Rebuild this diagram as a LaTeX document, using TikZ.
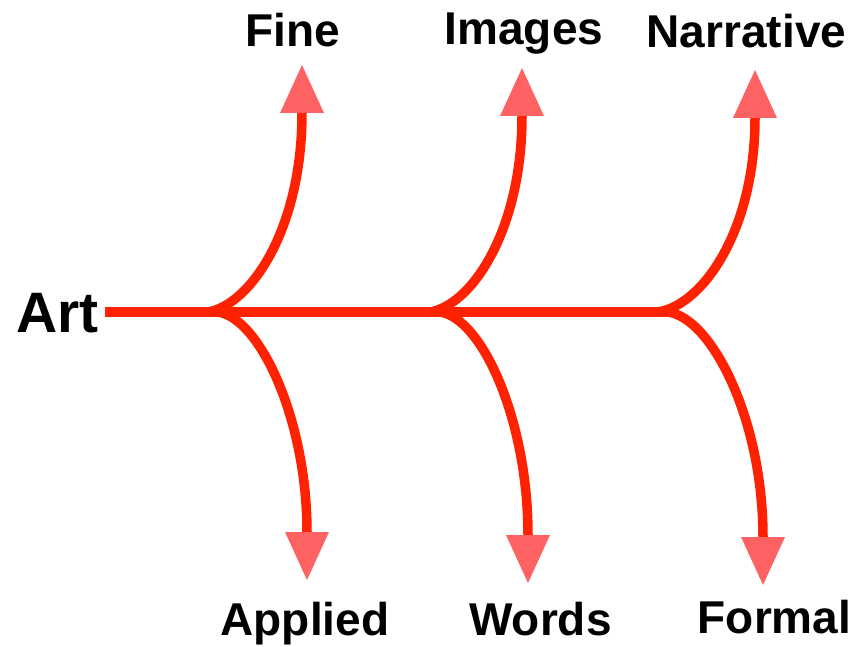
\documentclass[tikz,border=0pt]{standalone}
\usepackage{fontspec}
\setmainfont{Liberation Sans}
\usetikzlibrary{arrows.meta}
\definecolor{linered}{HTML}{FF2200}
\definecolor{tipred}{HTML}{FF6262}
\tikzset{
  branch/.style={draw=linered, line width=9.5pt,
    -{Triangle[width=44pt,length=48pt,line width=0pt,color=tipred]}},
  trunk/.style={draw=linered, line width=9.5pt},
  lbl/.style={inner sep=0pt, anchor=base, font=\fontsize{46}{50}\selectfont\bfseries},
  rootlbl/.style={inner sep=0pt, anchor=base, font=\fontsize{57}{60}\selectfont\bfseries}
}
\begin{document}
\begin{tikzpicture}[x=1pt,y=-1pt]
\useasboundingbox (0,0) rectangle (859,647);
% labels
\node[rootlbl] (art) at (57.5,332) {Art};
\node[lbl] (fine) at (292.5,47) {Fine};
\node[lbl] (images) at (524,45) {Images};
\node[lbl] (narr) at (746.5,48) {Narrative};
\node[lbl] (appl) at (305,635) {Applied};
\node[lbl] (words) at (540.5,635) {Words};
\node[lbl] (formal) at (774.5,633) {Formal};
% coordinates
\coordinate (s) at (105,312);
\coordinate (f1u) at (208,312);
\coordinate (f1d) at (218,312);
\coordinate (f2u) at (430,312);
\coordinate (f2d) at (440,312);
\coordinate (f3u) at (658,312);
\coordinate (f3d) at (668,312);
\coordinate (t1) at (302,65);
\coordinate (b1) at (307,580);
\coordinate (t2) at (522,68);
\coordinate (b2) at (528,583);
\coordinate (t3) at (755,70);
\coordinate (b3) at (763,585);
% trunk
\draw[trunk] (s) -- (f3d);
% branches
\draw[branch] (f1u) .. controls (250,305) and (302,230) .. (t1);
\draw[branch] (f1d) .. controls (260,318) and (307,420) .. (b1);
\draw[branch] (f2u) .. controls (472,305) and (522,230) .. (t2);
\draw[branch] (f2d) .. controls (482,318) and (528,420) .. (b2);
\draw[branch] (f3u) .. controls (703,305) and (755,230) .. (t3);
\draw[branch] (f3d) .. controls (712,318) and (763,420) .. (b3);
\end{tikzpicture}
\end{document}
